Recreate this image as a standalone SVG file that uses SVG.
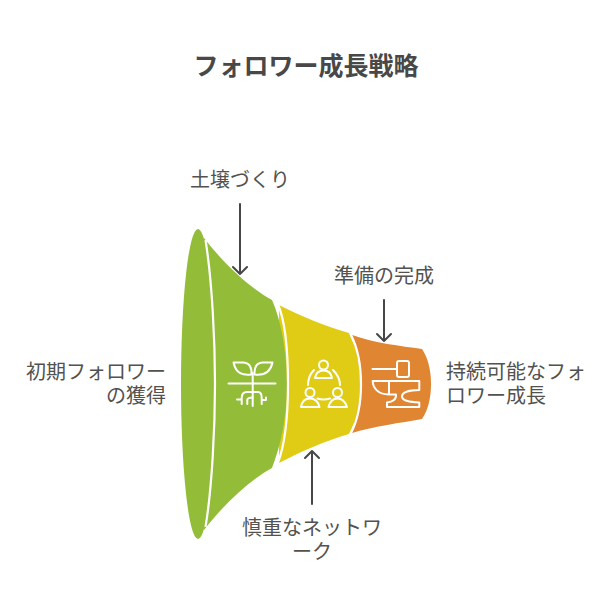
<svg xmlns="http://www.w3.org/2000/svg" width="612" height="612" viewBox="0 0 612 612">
<style>
text{font-family:"Noto Sans CJK JP","Liberation Sans",sans-serif;font-size:20px;fill:#53524f;text-anchor:middle}
.t{font-size:25px;font-weight:700;fill:#484848}
.i{fill:none;stroke:#fff;stroke-width:2;stroke-linecap:round;stroke-linejoin:round}
.a{fill:none;stroke:#474747;stroke-width:2;stroke-linecap:round;stroke-linejoin:round}
.s{fill:none;stroke:#fff;stroke-width:2.2}
</style>
<rect width="612" height="612" fill="#fff"/>
<text class="t" x="306" y="75">フォロワー成長戦略</text>
<g id="stage3">
<path fill="#e08531" d="M352,335C375,343 400,346 422,349C428,358 431,370 431,384C431,398 428,410 422,419C400,423 375,426 352,433Q362,384 352,335Z"/>
<g class="i"><path d="M372.500,369H396.500"/><rect x="397" y="361" width="12" height="16" rx="2"/><path d="M372.700,381H419.300V390C410,390 402,392 402,396.500C402,401 410,402 419.300,402.500V407H387V402.500C393,402 396.500,399 396,394.500H389C378,394.500 373,388 372.700,381ZM389,381V394.500"/></g>
<text x="384" y="283">準備の完成</text>
</g>
<g id="stage2">
<path fill="#e0cc15" d="M279,305C300,316 325,326 349,333C358,350 360,368 360,384C360,402 357,420 349,434C325,441 300,452 279,463Z"/>
<path class="s" d="M350.500,334C359,350 361,368 361,384C361,402 358,420 350.500,434"/>
<g class="i"><circle cx="323.500" cy="365" r="4.500"/><path d="M315,378C316,372 320,370.500 323.500,370.500C327,370.500 331,372 332,378Z"/><circle cx="310" cy="392.500" r="4.500"/><path d="M301,407C302,401 306,398.500 310,398.500C314,398.500 318,401 319.500,407Z"/><circle cx="337.500" cy="392.500" r="4.500"/><path d="M328.500,407C330,401 333.500,398.500 337.500,398.500C341.500,398.500 345,401 347,407Z"/><path d="M314,370C310,374 308,379 308,385M333,370C337,374 340,379 340,385M317.500,398.500Q323.500,400.500 330,398.500"/></g>
<text x="312" y="535">慎重なネットワ</text><text x="312" y="559">ーク</text>
</g>
<g id="stage1">
<path fill="#93bd39" d="M204,238C225,265 250,288 272,300C281,320 287,352 287,384C287,416 281,445 272,468C250,480 225,503 204,530Z"/>
<ellipse cx="198" cy="384" rx="17" ry="155" fill="#93bd39"/>
<path class="s" d="M205.500,240C212,280 215,340 215,384C215,428 212,488 205.500,527"/>
<path class="s" d="M277.500,303C285,320 288,352 288,384C288,416 285,445 277.500,464"/>
<g class="i"><path d="M228.500,383.500H275.500M252.700,373V406"/><path d="M233.500,362.500H243C249,362.500 252,367 251.500,374.500C243,375.500 236,374 233.500,362.500Z"/><path d="M272.500,362.500H263C257,362.500 254,367 254.500,374.500C262,375.500 270,374 272.500,362.500Z"/><path d="M252.700,392H247C243,392 241.700,394 241.700,398V404M237,399.500H241.700M252.700,392H258C260.500,392 261.700,394 261.700,398V404M261.700,397.500V400H266V397.500M247.300,404V400C247.300,398 248.500,397.500 252.700,397.500"/></g>
<text x="240" y="187">土壌づくり</text>
<text x="96" y="379">初期フォロワー</text><text x="136" y="403">の獲得</text>
</g>
<g id="stage4"><text x="516" y="379">持続可能なフォ</text><text x="496" y="403">ロワー成長</text></g>
<g id="connectors">
<path class="a" d="M240,204V274M233,267L240,274L247,267"/>
<path class="a" d="M384,300V341M377,334L384,341L391,334"/>
<path class="a" d="M312,504V451M305,458L312,451L319,458"/>
</g>
</svg>
